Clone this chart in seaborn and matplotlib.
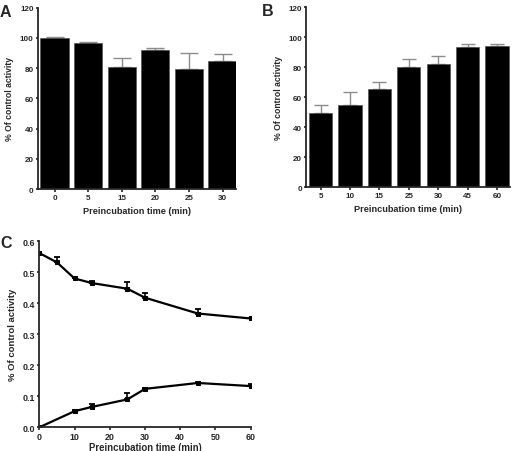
import numpy as np
import pandas as pd
import matplotlib
matplotlib.use("Agg")
import matplotlib.pyplot as plt
import seaborn as sns

# data
a_time = ["0", "5", "15", "20", "25", "30"]
a_act = [100, 96.5, 81, 92, 79.5, 84.5]
a_err = [0.3, 0.6, 5.5, 1.6, 10.5, 5.0]

b_time = ["5", "10", "15", "25", "30", "45", "60"]
b_act = [49.5, 55, 65.5, 80.5, 82, 93.5, 94]
b_err = [5.5, 8.5, 5.0, 5.0, 5.5, 2.0, 1.5]

c_time = [0, 5, 10, 15, 25, 30, 45, 60]
c_upper = [0.562, 0.532, 0.480, 0.465, 0.447, 0.418, 0.367, 0.351]
c_upper_err = [0.002, 0.018, 0.002, 0.006, 0.021, 0.014, 0.016, 0.002]

c_time2 = [0, 10, 15, 25, 30, 45, 60]
c_lower = [0.0, 0.052, 0.066, 0.090, 0.124, 0.143, 0.133]
c_lower_err = [0.001, 0.003, 0.010, 0.020, 0.003, 0.004, 0.007]

sns.set_style("ticks")
plt.rcParams["font.family"] = ["Liberation Sans", "DejaVu Sans"]
plt.rcParams["font.weight"] = "bold"
plt.rcParams["axes.linewidth"] = 1.3
plt.rcParams["xtick.major.width"] = 1.2
plt.rcParams["ytick.major.width"] = 1.2
plt.rcParams["xtick.major.size"] = 1.8
plt.rcParams["ytick.major.size"] = 1.8
plt.rcParams["xtick.major.pad"] = 1.5
plt.rcParams["ytick.major.pad"] = 1.2

TICK_FS = 5.8
XLAB_FS = 6.6
YLAB_FS = 6.2

fig = plt.figure(figsize=(5.13, 4.52), dpi=100)
axA = fig.add_axes([0.0735, 0.5796, 0.3865, 0.4014])
axB = fig.add_axes([0.5965, 0.5834, 0.3975, 0.3982])
axC = fig.add_axes([0.0766, 0.0524, 0.4121, 0.4116])


def bar_panel(ax, times, vals, errs, width, xmax, cap):
    sns.barplot(x=times, y=vals, color="black", width=width, ax=ax,
                edgecolor="#555555", linewidth=0.5, saturation=1)
    ax.errorbar(range(len(times)), vals, yerr=[np.zeros(len(errs)), errs],
                fmt="none", ecolor="#8c8c8c", elinewidth=1, capsize=cap,
                capthick=1, zorder=0)
    ax.set_ylim(0, 120)
    ax.set_yticks(range(0, 121, 20))
    ax.set_xlim(-0.5, xmax)
    ax.set_xlabel("Preincubation time (min)", fontsize=XLAB_FS, fontweight="bold", labelpad=4)
    ax.set_ylabel("% Of control activity", fontsize=YLAB_FS, fontweight="bold", labelpad=4)
    ax.tick_params(labelsize=TICK_FS)
    for lbl in ax.get_xticklabels() + ax.get_yticklabels():
        lbl.set_fontweight("bold")
    sns.despine(ax=ax)


bar_panel(axA, a_time, a_act, a_err, 0.84, 5.4, 6.5)
bar_panel(axB, b_time, b_act, b_err, 0.79, 6.44, 4.7)

# panel C
for t, v, e in [(c_time, c_upper, c_upper_err), (c_time2, c_lower, c_lower_err)]:
    sns.lineplot(x=t, y=v, color="black", linewidth=1.6, marker="s",
                 markersize=3.2, markeredgecolor="black", ax=axC)
    axC.errorbar(t, v, yerr=[np.zeros(len(e)), e], fmt="none", ecolor="black",
                 elinewidth=1.2, capsize=2.3, capthick=1.3)
axC.set_xlim(0, 60)
axC.set_ylim(0, 0.6)
axC.set_xticks(range(0, 61, 10))
axC.set_yticks(np.arange(0, 0.61, 0.1))
axC.yaxis.set_major_formatter(matplotlib.ticker.FormatStrFormatter("%.1f"))
axC.set_xlabel("Preincubation time (min)", fontsize=6.9, fontweight="bold", labelpad=1)
axC.set_ylabel("% Of control activity", fontsize=6.8, fontweight="bold", labelpad=4)
axC.tick_params(labelsize=TICK_FS + 0.6)
for lbl in axC.get_xticklabels() + axC.get_yticklabels():
    lbl.set_fontweight("bold")
sns.despine(ax=axC)

fig.text(0.0, 0.99, "A", fontsize=11.5, fontweight="bold", va="top")
fig.text(0.511, 0.992, "B", fontsize=11.5, fontweight="bold", va="top")
fig.text(0.0, 0.477, "C", fontsize=11.5, fontweight="bold", va="top")

fig.savefig("out.png", dpi=100)
